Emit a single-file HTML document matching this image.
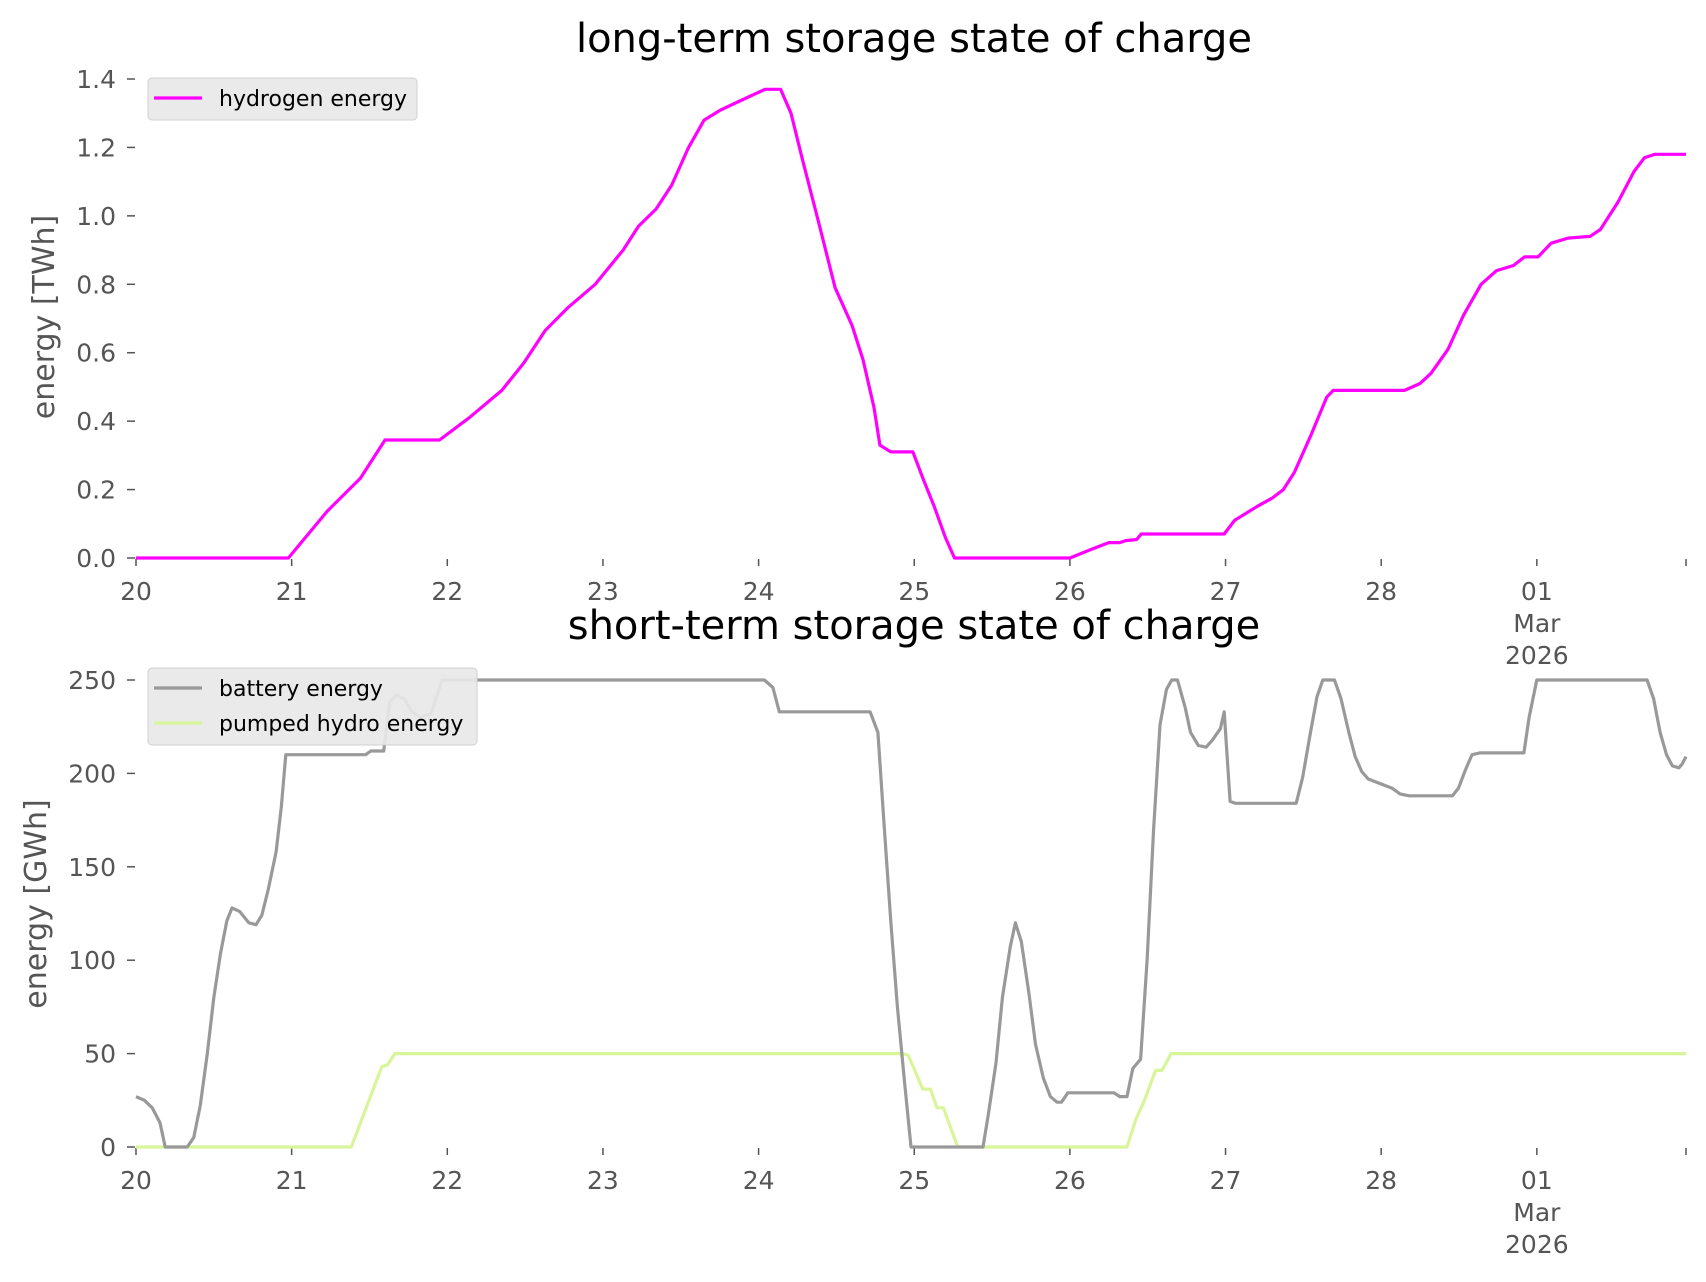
<!DOCTYPE html>
<html><head><meta charset="utf-8"><style>
body{margin:0;background:#fff;}
svg text{font-family:"DejaVu Sans","Liberation Sans",sans-serif;}
</style></head><body>
<svg id="c" width="1706" height="1277" xmlns="http://www.w3.org/2000/svg"></svg>
<script>
const xTickLabels=["20","21","22","23","24","25","26","27","28","01"];
const h2Hours=[0,23.5,29.5,34.6,38.4,46.8,51.4,56.4,59.8,63.1,66.5,70.8,75.1,77.5,80.2,82.6,85.2,87.6,90.2,93.6,97,99.4,101,102.7,105.4,107.8,110.4,112.1,113.8,114.7,116.4,119.8,121.4,123.1,124.8,126.2,144,147.4,150,151.7,152.6,154.3,155,167.8,169.4,172.8,175.2,176.9,178.6,181.2,183.6,184.6,195.6,198,199.7,202.3,204.7,207.4,209.8,212.4,214.1,216.2,218.2,220.8,224.2,225.8,228.5,231,232.6,234.2,239];
const h2Values=[0,0,0.137,0.233,0.345,0.345,0.41,0.49,0.57,0.665,0.73,0.80,0.90,0.97,1.02,1.09,1.20,1.28,1.31,1.34,1.37,1.37,1.30,1.17,0.97,0.79,0.68,0.58,0.44,0.33,0.31,0.31,0.23,0.15,0.06,0,0,0.026,0.045,0.045,0.051,0.054,0.07,0.07,0.11,0.15,0.175,0.20,0.25,0.36,0.47,0.49,0.49,0.51,0.54,0.61,0.71,0.80,0.84,0.855,0.88,0.88,0.92,0.935,0.94,0.96,1.04,1.13,1.17,1.18,1.18];
const batHours=[0,1.3,2.5,3.7,4.5,7.9,8.9,9.9,11,12,13,14,14.8,16,17.4,18.5,19.4,20.4,21.6,22.4,23.1,35.4,36.2,38.2,39.1,40.1,41.3,42.6,43.8,45.5,47.2,96.9,98.2,99.2,113.2,114.4,115.4,116.4,117.4,118.5,119.5,130.6,131.4,132.6,133.6,134.8,135.6,136.5,137.7,138.7,139.9,141,142,142.7,143.7,150.8,151.7,152.8,153.7,154.9,155.9,156.9,157.9,158.9,159.7,160.6,161.8,162.6,163.8,165,166,167.2,167.8,168.7,169.5,178.9,179.9,181.1,182.1,183,184.8,185.8,187,188,189,190,191.5,193.7,194.9,196.3,203,203.9,205,206,207.2,214,214.8,216,233,234,235,236,236.9,237.9,238.4,239];
const batValues=[27,25,21,13,0,0,5,22,50,80,103,121,128,126,120,119,124,138,158,182,210,210,212,212,238,242,240,233,230,232,250,250,246,233,233,222,170,120,75,35,0,0,17,45,80,107,120,110,82,55,37,27,24,24,29,29,27,27,42,47,100,170,226,245,250,250,235,222,215,214,218,224,233,185,184,184,198,222,241,250,250,240,222,209,201,197,195,192,189,188,188,192,202,210,211,211,230,250,250,240,222,210,204,203,205,209];
const phHours=[0,33.2,37.9,38.8,39.9,118.3,119.1,121.3,122.5,123.5,124.5,126.7,152.8,154.2,155.5,157.2,158.2,159.6,239];
const phValues=[0,0,43,44,50,50,49,31,31,21,21,0,0,15,25,41,41,50,50];
const topTicks=[0,0.2,0.4,0.6,0.8,1.0,1.2,1.4];
const botTicks=[0,50,100,150,200,250];

const NS="http://www.w3.org/2000/svg";
const svg=document.getElementById('c');
function mk(t,a,p){const e=document.createElementNS(NS,t);for(const k in a)e.setAttribute(k,a[k]);(p||svg).appendChild(e);return e;}
const X0=136,X1=1686,HMAX=239;
const xs=h=>X0+(X1-X0)*h/HMAX;
const yTop=v=>558-(558-79)*v/1.4;
const yBot=v=>1147-(1147-680)*v/250;
const FS=25;

function axes(ys,ticks,fmt,name){
  const g=mk('g',{});
  
  
  ticks.forEach(t=>{
    const y=ys(t);
    const l=mk('line',{x1:127,x2:135,y1:y,y2:y,stroke:'#555','stroke-width':1.5},g);
    
    const tx=mk('text',{x:116,y:y+9,'text-anchor':'end','font-size':FS,fill:'#555'},g);
    tx.textContent=fmt(t);
    
  });
  const base=ys(0);
  const endTick=mk('line',{x1:X1,x2:X1,y1:base+1,y2:base+8,stroke:'#555','stroke-width':1.5},g);
  
  xTickLabels.forEach((s,i)=>{
    const x=xs(i*24);
    const l=mk('line',{x1:x,x2:x,y1:base+1,y2:base+8,stroke:'#555','stroke-width':1.5},g);
    
    const tx=mk('text',{x:x,y:base+42,'text-anchor':'middle','font-size':FS,fill:'#555'},g);
    tx.textContent=s;
    
    if(s==="01"){
      const m=mk('text',{x:x,y:base+74,'text-anchor':'middle','font-size':FS,fill:'#555'},g);m.textContent="Mar";
      
      const yr=mk('text',{x:x,y:base+106,'text-anchor':'middle','font-size':FS,fill:'#555'},g);yr.textContent="2026";
      
    }
  });
}
function line(hs,vs,ys,color,name){
  const d=hs.map((h,i)=>(i?'L':'M')+xs(h).toFixed(1)+','+ys(vs[i]).toFixed(1)).join('');
  const p=mk('path',{d:d,fill:'none',stroke:color,'stroke-width':3.2,'stroke-linejoin':'round'});
  
}
axes(yTop,topTicks,t=>t.toFixed(1),'top');
axes(yBot,botTicks,t=>String(t),'bottom');
line(h2Hours,h2Values,yTop,'#ff00ff','hydrogen-energy-line');
line(phHours,phValues,yBot,'#d8f59a','pumped-hydro-energy-line');
line(batHours,batValues,yBot,'#999999','battery-energy-line');

function title(x,y,s,name){const t=mk('text',{x:x,y:y,'text-anchor':'middle','font-size':40,fill:'#000'});t.textContent=s;}
title(914,52,'long-term storage state of charge','top-title');
title(914,639,'short-term storage state of charge','bottom-title');
function ylab(x,y,s,name){const t=mk('text',{x:x,y:y,'text-anchor':'middle','font-size':30,fill:'#555',transform:`rotate(-90 ${x} ${y})`});t.textContent=s;}
ylab(54,317,'energy [TWh]','top-y-axis-title');
ylab(46,904,'energy [GWh]','bottom-y-axis-title');

function legend(x,y,w,h,items,name){
  const g=mk('g',{});
  
  mk('rect',{x:x,y:y,width:w,height:h,rx:4,fill:'#e8e8e8','fill-opacity':0.92,stroke:'#d0d0d0'},g);
  items.forEach((it,i)=>{
    const cy=y+20+i*35;
    const l=mk('line',{x1:x+6,x2:x+54,y1:cy,y2:cy,stroke:it[1],'stroke-width':3.2},g);
    
    const t=mk('text',{x:x+71,y:cy+8,'font-size':22,fill:'#000'},g);t.textContent=it[0];
    
  });
}
legend(148,78,269,42,[['hydrogen energy','#ff00ff']],'top-legend');
legend(148,668,329,77,[['battery energy','#999999'],['pumped hydro energy','#d8f59a']],'bottom-legend');
</script>
</body></html>
